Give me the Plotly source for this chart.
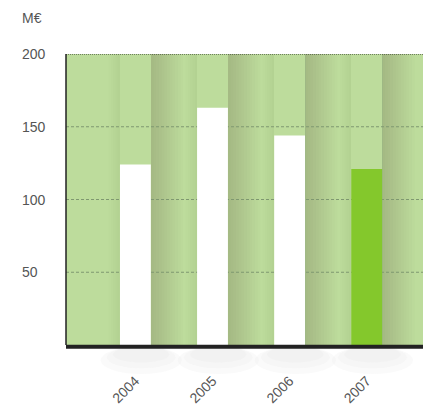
import plotly.graph_objects as go

years = ['2004', '2005', '2006', '2007']
values = [124, 163, 144, 121]
bar_colors = ['#ffffff', '#ffffff', '#ffffff', '#84c82c']
y_ticks = [50, 100, 150, 200]

W, H = 423, 406
L, R, T, B = 66, 0, 54, 61
pw = W - L - R
ph = H - T - B

fig = go.Figure()

# soft shadows beside each bar
shapes = []
for i, y in enumerate(years):
    for k in range(12):
        shapes.append(dict(
            type='rect', xref='x', yref='paper',
            x0=i + 0.2, x1=i + 0.2 + 0.035 * (k + 1),
            y0=0, y1=1, fillcolor='#3f5f28', opacity=0.015, line_width=0, layer='below'))
    for k in range(5):
        shapes.append(dict(
            type='rect', xref='x', yref='paper',
            x0=i - 0.2 - 0.03 * (k + 1), x1=i - 0.2,
            y0=0, y1=1, fillcolor='#3f5f28', opacity=0.012, line_width=0, layer='below'))
    # faint shadow below the axis
    for k, op in enumerate([0.2, 0.2, 0.25]):
        shapes.append(dict(
            type='circle', xref='x', yref='paper',
            x0=i - 0.45 + 0.08 * k, x1=i + 0.6 - 0.08 * k,
            y0=-0.1 + 0.02 * k, y1=-0.005,
            fillcolor='#e6e6e6', opacity=op, line_width=0, layer='below'))

fig.add_trace(go.Bar(
    x=years, y=values, width=0.4,
    marker=dict(color=bar_colors, line_width=0),
    hoverinfo='x+y'
))

# grid lines at inner ticks, dark dotted at top
for v in y_ticks:
    shapes.append(dict(type='line', xref='paper', yref='y', x0=0, x1=1, y0=v, y1=v,
                       line=dict(color='#222222' if v == 200 else '#7f9870',
                                 width=1, dash='1px,1px' if v == 200 else '3px,2px'),
                       layer='above' if v == 200 else 'below'))
# left border and thick base line
shapes.append(dict(type='line', xref='paper', yref='paper', x0=0, x1=0, y0=0, y1=1,
                   line=dict(color='#222222', width=1.5)))
shapes.append(dict(type='line', xref='paper', yref='paper', x0=0, x1=1, y0=-0.006, y1=-0.006,
                   line=dict(color='#222222', width=4)))

annotations = []
for v in y_ticks:
    annotations.append(dict(text=str(v), xref='paper', yref='y',
                            x=(20 - L) / pw, y=v, xanchor='left', yanchor='middle',
                            showarrow=False, font=dict(size=14, color='#555555')))
annotations.append(dict(text='M€', xref='paper', yref='paper',
                        x=(20 - L) / pw, y=(H - 18 - B) / ph, xanchor='left',
                        yanchor='middle', showarrow=False,
                        font=dict(size=14, color='#555555')))

fig.update_layout(
    width=W, height=H,
    margin=dict(l=L, r=R, t=T, b=B, autoexpand=False),
    paper_bgcolor='white',
    plot_bgcolor='#bddc9c',
    showlegend=False,
    shapes=shapes,
    annotations=annotations,
    font=dict(family='Liberation Sans, Arial, sans-serif', color='#555555'),
    xaxis=dict(type='category', range=[-0.9, 3.73], showgrid=False, zeroline=False,
               tickangle=-45, tickfont=dict(size=14, color='#555555'),
               ticks='', ticklabelstandoff=24, fixedrange=True, automargin=False),
    yaxis=dict(range=[0, 200], showgrid=False, zeroline=False, showticklabels=False,
               fixedrange=True, automargin=False),
)

fig.write_html('out.html', config={'displayModeBar': False},
               post_script="document.body.style.margin='0';document.body.style.overflow='hidden';")
